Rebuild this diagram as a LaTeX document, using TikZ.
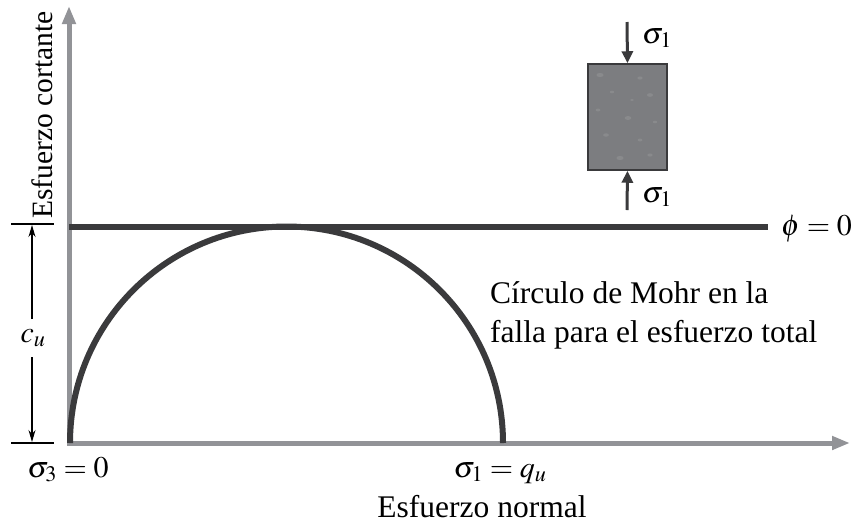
\documentclass[tikz,border=0pt]{standalone}
\usepackage{mathptmx}
\usepackage{fontspec}
\setmainfont{Liberation Serif}
\usetikzlibrary{arrows.meta}
\definecolor{axisgray}{HTML}{929397}
\definecolor{darkline}{HTML}{3A3A3C}
\definecolor{blockfill}{HTML}{7C7D80}
\tikzset{
  axis/.style={draw=axisgray, line width=5pt, line join=miter},
  heavy/.style={draw=darkline, line width=6pt},
  dimline/.style={draw=black, line width=1.1pt},
  lbl/.style={inner sep=0pt, font=\fontsize{30}{36}\selectfont},
  forcearrow/.style={draw=darkline, line width=3pt, -{Triangle[length=12pt,width=11pt]}},
}
\begin{document}
\begin{tikzpicture}[x=1pt,y=-1pt]
\useasboundingbox (0,0) rectangle (851,523);
% axes
\coordinate (O) at (69,443);
\coordinate (ytop) at (69,6);
\coordinate (xend) at (850,443);
\draw[axis, {Triangle[length=18pt,width=13pt]}-{Triangle[length=18pt,width=13pt]}] (ytop) -- (O) -- (xend);
% phi = 0 line
\coordinate (phiL) at (69,227);
\coordinate (phiR) at (768,227);
\draw[heavy] (phiL) -- (phiR);
\node[lbl, anchor=base west] (phi) at (781,235) {$\phi = 0$};
% Mohr circle
\coordinate (cA) at (70,443);
\draw[heavy] (cA) arc[start angle=180, end angle=360, radius=216.5];
% c_u dimension
\coordinate (t1a) at (11,224); \coordinate (t1b) at (54,224);
\coordinate (t2a) at (11,443); \coordinate (t2b) at (54,443);
\draw[dimline] (t1a) -- (t1b);
\draw[dimline] (t2a) -- (t2b);
\node[lbl] (cu) at (33,338) {$c_u$};
\coordinate (cuUp) at (32,319);
\coordinate (cuDn) at (32,357);
\coordinate (dimtop) at (32,225);
\coordinate (dimbot) at (32,442);
\draw[dimline, -{Stealth[length=12pt,width=7pt]}] (cuUp) -- (dimtop);
\draw[dimline, -{Stealth[length=12pt,width=7pt]}] (cuDn) -- (dimbot);
% specimen
\node[draw=darkline, line width=1.5pt, fill=blockfill, minimum width=79pt, minimum height=106pt, inner sep=0pt] (blk) at (627.5,117) {};
\foreach \px/\py/\r in {600/75/1.6, 640/78/1.2, 612/92/1.0, 650/95/1.4, 598/110/1.1, 628/118/1.5, 655/122/1.0, 606/135/1.3, 640/140/1.1, 620/158/1.6, 650/155/1.2, 632/100/0.9}
  \fill[white, opacity=0.1] (\px,\py) ellipse[x radius=\r*2.2pt, y radius=\r*1.3pt];
\coordinate (aTop) at (627,22);
\coordinate (aBot) at (627,210);
\draw[forcearrow] (aTop) -- (blk.north);
\draw[forcearrow] (aBot) -- (blk.south);
\node[lbl, anchor=base west] (s1top) at (642,43) {$\sigma_1$};
\node[lbl, anchor=base west] (s1bot) at (642,202) {$\sigma_1$};
% labels
\node[lbl, font=\fontsize{31.5}{38}\selectfont, anchor=base west] (mohr1) at (490,303) {Círculo de Mohr en la};
\node[lbl, font=\fontsize{31.5}{38}\selectfont, anchor=base west] (mohr2) at (490,342) {falla para el esfuerzo total};
\node[lbl, anchor=base] (s3) at (68,477) {$\sigma_3 = 0$};
\node[lbl, anchor=base] (s1q) at (500,477) {$\sigma_1 = q_u$};
\node[lbl, font=\fontsize{31.5}{38}\selectfont, anchor=base] (xlab) at (482,517) {Esfuerzo normal};
\node[lbl, font=\fontsize{29.5}{35}\selectfont, rotate=90, anchor=base] (ylab) at (52,115) {Esfuerzo cortante};
\end{tikzpicture}
\end{document}
